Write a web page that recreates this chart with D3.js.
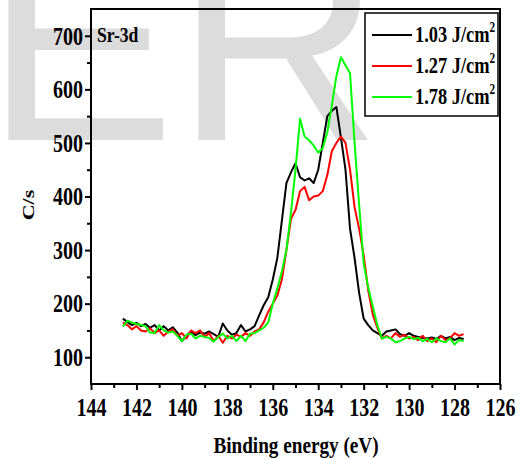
<!DOCTYPE html>
<html><head><meta charset="utf-8">
<script src="https://cdn.jsdelivr.net/npm/d3@7"></script>
<style>body{margin:0;background:#fff}svg{display:block}</style>
</head><body>
<svg id="chart" width="519" height="459"></svg>
<script>
// ---- data ----
const energy = d3.range(0, 76).map(i => +(142.6 - i * 0.2).toFixed(1));
const black103 = [172,166,160,164,158,162,155,160,150,158,150,156,146,130,140,148,141,146,144,148,
  143,138,163,150,142,145,160,148,152,158,178,197,212,245,285,355,425,445,462,436,
  430,434,425,450,500,550,560,567,510,450,340,285,220,172,160,150,145,140,148,150,
  152,143,140,145,140,138,136,135,137,134,140,135,138,132,136,134];
const red127 = [165,160,152,158,150,148,154,145,150,140,148,152,140,145,135,150,145,150,138,145,
  130,140,127,140,135,142,138,145,140,148,152,165,185,200,215,245,300,358,375,410,
  418,393,400,402,410,440,485,500,512,500,450,380,340,290,225,180,155,135,140,135,
  145,138,142,135,138,132,140,130,135,128,140,132,135,145,140,143];
const green178 = [157,168,165,162,160,158,146,145,160,150,146,148,140,130,142,144,135,140,138,136,
  129,138,144,135,140,130,140,130,144,145,150,155,165,200,228,260,300,370,450,545,
  512,505,495,482,490,520,570,625,660,645,630,500,385,275,230,195,160,135,138,135,
  128,130,135,138,134,136,130,134,128,135,130,128,135,124,132,130];
const seriesNames = ["1.03 J/cm", "1.27 J/cm", "1.78 J/cm"];
const seriesColors = ["#000000", "#ff0000", "#00ff00"];
const seriesValues = [black103, red127, green178];
const xTicks = [144,142,140,138,136,134,132,130,128,126];
const yTicks = [100,200,300,400,500,600,700];

// ---- layout ----
const svg = d3.select("#chart");
const L = 91, R = 500, T = 9, B = 384;
const x = d3.scaleLinear().domain([144, 126]).range([L, R]);
const y = d3.scaleLinear().domain([50, 750]).range([B, T]);
const FONT = "'Liberation Serif','Times New Roman',serif";
const SX = 0.8;

// watermark
svg.append("text").attr("x", -15).attr("y", 140)
  .attr("font-family", "'Liberation Sans',Arial,sans-serif")
  .attr("font-size", 285).attr("fill", "#dcdcdc").text("ER");

// lines
const line = d3.line().x((d, i) => x(energy[i])).y(d => y(d));
seriesValues.forEach((vals, k) => {
  svg.append("path").datum(vals).attr("d", line)
    .attr("fill", "none").attr("stroke", seriesColors[k])
    .attr("stroke-width", 2).attr("stroke-linejoin", "round");
});

// axes
const gx = svg.append("g").attr("transform", `translate(0,${B})`)
  .call(d3.axisBottom(x).tickValues(xTicks).tickSize(6).tickSizeOuter(0).tickPadding(8));
const gxm = svg.append("g").attr("transform", `translate(0,${B})`)
  .call(d3.axisBottom(x).tickValues(d3.range(143, 126, -2)).tickSize(4).tickSizeOuter(0).tickFormat(""));
const gy = svg.append("g").attr("transform", `translate(${L},0)`)
  .call(d3.axisLeft(y).tickValues(yTicks).tickSize(6).tickSizeOuter(0).tickPadding(3));
const gym = svg.append("g").attr("transform", `translate(${L},0)`)
  .call(d3.axisLeft(y).tickValues([150,250,350,450,550,650]).tickSize(4).tickSizeOuter(0).tickFormat(""));
[gx, gxm, gy, gym].forEach(g => {
  g.select(".domain").remove();
  g.selectAll(".tick line").attr("stroke", "#000").attr("stroke-width", 2);
});
gx.selectAll(".tick text").attr("font-family", FONT).attr("font-weight", "bold")
  .attr("font-size", 25).attr("fill", "#000").attr("y", 0).attr("dy", 0)
  .attr("transform", `translate(0,32) scale(${SX},1)`);
gy.selectAll(".tick text").attr("font-family", FONT).attr("font-weight", "bold")
  .attr("font-size", 25).attr("fill", "#000").attr("x", 0).attr("dy", "0.33em")
  .attr("transform", `translate(-8,0) scale(${SX},1)`);

// frame
svg.append("rect").attr("x", L).attr("y", T).attr("width", R - L).attr("height", B - T)
  .attr("fill", "none").attr("stroke", "#000").attr("stroke-width", 2);

// labels
svg.append("text").attr("transform", `translate(296,453) scale(${SX},1)`)
  .attr("text-anchor", "middle").attr("font-family", FONT).attr("font-weight", "bold")
  .attr("font-size", 24).text("Binding energy (eV)");
svg.append("text").attr("transform", `translate(34,205) scale(${SX},1) rotate(-90)`)
  .attr("text-anchor", "middle").attr("font-family", FONT).attr("font-weight", "bold")
  .attr("font-size", 22).text("C/s");
svg.append("text").attr("transform", `translate(97,42) scale(${SX},1)`)
  .attr("font-family", FONT).attr("font-weight", "bold")
  .attr("font-size", 22).text("Sr-3d");

// legend
const lg = svg.append("g");
lg.append("rect").attr("x", 365).attr("y", 13).attr("width", 133).attr("height", 103)
  .attr("fill", "#fff").attr("stroke", "#000").attr("stroke-width", 1.5);
seriesNames.forEach((name, k) => {
  const ly = 35 + k * 31;
  lg.append("line").attr("x1", 372).attr("x2", 412).attr("y1", ly).attr("y2", ly)
    .attr("stroke", seriesColors[k]).attr("stroke-width", 2);
  const t = lg.append("text").attr("transform", `translate(415,${ly + 7}) scale(${SX},1)`)
    .attr("font-family", FONT).attr("font-weight", "bold").attr("font-size", 23);
  t.append("tspan").text(name);
  t.append("tspan").attr("dy", -10).attr("font-size", 14).text("2");
});
</script>
</body></html>
